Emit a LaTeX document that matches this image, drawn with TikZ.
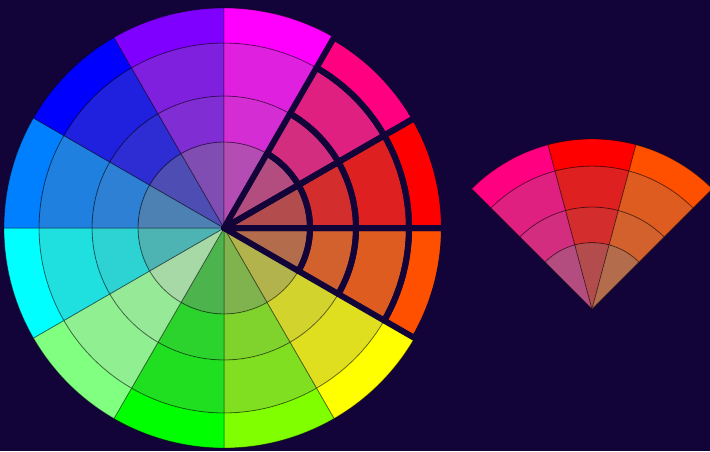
\documentclass[tikz,border=0pt]{standalone}
\usepackage{tikz}
\definecolor{wheelbg}{HTML}{120438}
\definecolor{wGray}{HTML}{808080}
\definecolor{wPale}{HTML}{BFBFBF}
\definecolor{wMagenta}{HTML}{FF00FF}
\definecolor{wRose}{HTML}{FF0080}
\definecolor{wRed}{HTML}{FF0000}
\definecolor{wOrange}{HTML}{FF5000}
\definecolor{wYellow}{HTML}{FFFF00}
\definecolor{wLime}{HTML}{80FF00}
\definecolor{wGreen}{HTML}{00FF00}
\definecolor{wMint}{HTML}{80FF80}
\definecolor{wCyan}{HTML}{00FFFF}
\definecolor{wAzure}{HTML}{0080FF}
\definecolor{wBlue}{HTML}{0000FF}
\definecolor{wViolet}{HTML}{8000FF}
\tikzset{
  cellline/.style={draw=black, draw opacity=0.4, line width=0.8pt},
  gapline/.style={fill=none, draw=wheelbg, draw opacity=1, line width=6pt, line join=round}}
% one 30 degree sector, four rings: start angle, hue, grey it fades to, extra style
\newcommand{\wheelsector}[4]{%
  \path[cellline, fill=#2!40!#3, #4] (0,0) -- (#1:86)
    arc[start angle=#1, end angle=#1+30, radius=86] -- cycle;
  \foreach \rin/\rout/\sat in {86/132/65, 132/185/75, 185/220/100} {
    \path[cellline, fill=#2!\sat!#3, #4] (#1:\rin) -- (#1:\rout)
      arc[start angle=#1, end angle=#1+30, radius=\rout] -- ({#1+30}:\rin)
      arc[start angle=#1+30, end angle=#1, radius=\rin] -- cycle;
  }}

\begin{document}
\begin{tikzpicture}[x=1pt, y=1pt]
  \useasboundingbox (0,0) rectangle (710,451);
  \clip (0,0) rectangle (710,451);
  \fill[wheelbg] (0,0) rectangle (710,451);

  % the full wheel
  \begin{scope}[shift={(224,223)}]
    \foreach \ang/\hue/\mid in {0/wRed/wGray, -30/wOrange/wGray, -60/wYellow/wGray,
        -90/wLime/wGray, -120/wGreen/wGray, -150/wMint/wPale, -180/wCyan/wGray,
        -210/wAzure/wGray, -240/wBlue/wGray, -270/wViolet/wGray,
        -300/wMagenta/wGray, -330/wRose/wGray}
      \wheelsector{\ang}{\hue}{\mid}{};
    % the three picked hues, cut apart
    \foreach \ang/\hue in {30/wRose, 0/wRed, -30/wOrange}
      \wheelsector{\ang}{\hue}{wGray}{gapline};
  \end{scope}

  % the picked hues on their own
  \begin{scope}[shift={(592,142)}, rotate=75, scale=0.7727]
    \foreach \ang/\hue in {30/wRose, 0/wRed, -30/wOrange}
      \wheelsector{\ang}{\hue}{wGray}{};
  \end{scope}
\end{tikzpicture}
\end{document}
